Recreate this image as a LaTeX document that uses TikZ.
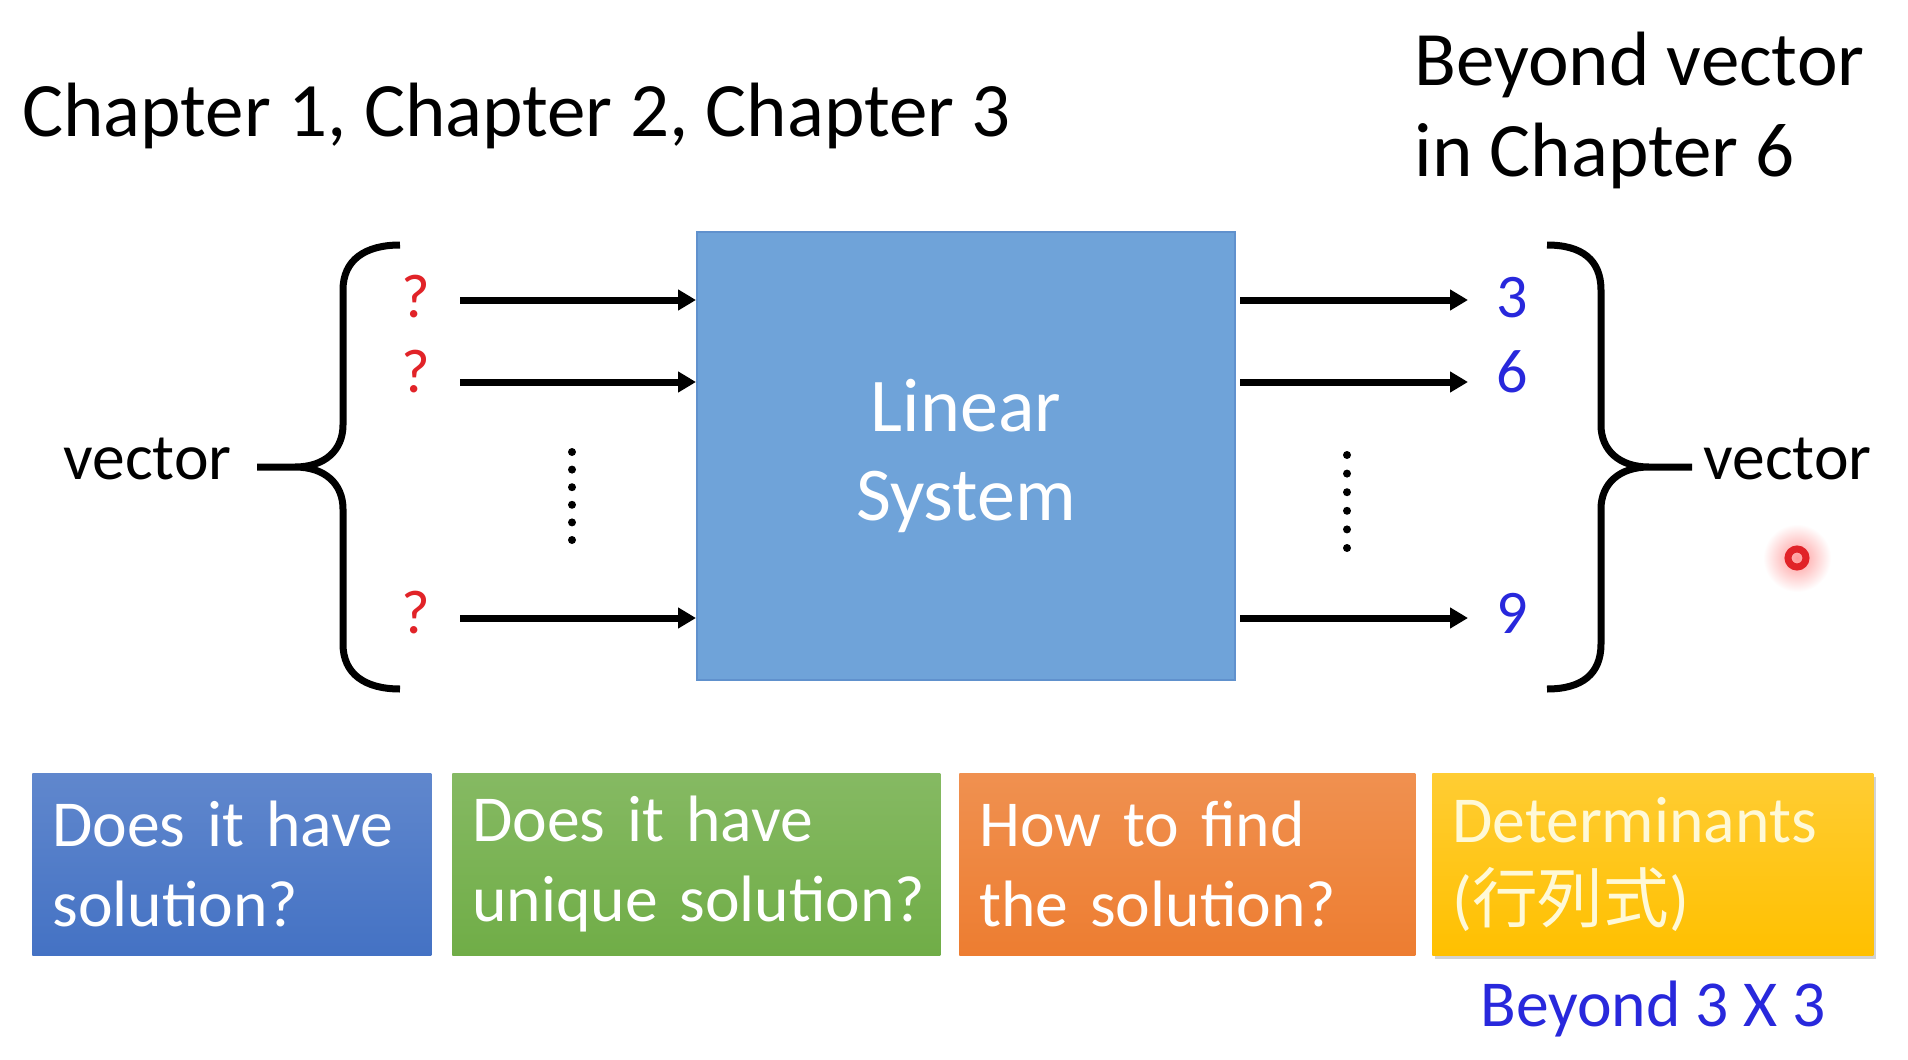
\documentclass[tikz,border=0pt]{standalone}
\usepackage{fontspec}
\setmainfont{Carlito}
\newfontfamily\qboxfam{Carlito}[WordSpace=0.72]
\newfontfamily\cjk{Noto Sans CJK TC}
\usetikzlibrary{arrows.meta,shadows,positioning}
\definecolor{sysblue}{RGB}{111,163,217}
\definecolor{sysedge}{RGB}{96,145,205}
\definecolor{qred}{RGB}{225,35,40}
\definecolor{numblue}{RGB}{40,40,220}
\definecolor{boxblue}{RGB}{68,114,196}
\definecolor{boxgreen}{RGB}{112,173,71}
\definecolor{boxorange}{RGB}{237,125,49}
\definecolor{boxgold}{RGB}{255,192,0}
\definecolor{paleyellow}{RGB}{255,249,215}

\begin{document}
\begin{tikzpicture}[x=0.5pt,y=-0.5pt,
    arr/.style={line width=3.5pt,-{Triangle[length=9pt,width=10pt]}},
    brace/.style={line width=3.5pt},
    qbox/.style={anchor=north west,minimum height=91pt,inner xsep=10pt,inner ysep=0pt,
      align=left,text=white,font=\qboxfam\fontsize{32.8}{40}\selectfont},
    big/.style={inner sep=0pt,font=\fontsize{38.5}{46}\selectfont},
    mid/.style={inner sep=0pt,font=\fontsize{32.8}{40}\selectfont},
    num/.style={inner sep=0pt,anchor=base,font=\fontsize{31}{37}\selectfont}]
  \useasboundingbox (0,0) rectangle (1908,1060);
  \fill[white] (0,0) rectangle (1908,1060);

  % titles
  \node[big,anchor=base west] (chap) at (22,136) {Chapter 1, Chapter 2, Chapter 3};
  \node[big,anchor=base west] (beyond) at (1414,85) {Beyond vector};
  \node[big,anchor=base west] (ch6) at (1414,176) {in Chapter 6};

  % the system
  \node[draw=sysedge,line width=1pt,fill=sysblue,minimum width=269pt,minimum height=224pt,
    inner sep=0pt,text=white,align=center,font=\fontsize{38}{44.5}\selectfont]
    (sys) at (966,456) {Linear\\System};

  \foreach \y [count=\i] in {300,382,618} {
    \coordinate (in\i) at (460,\y);
    \coordinate (out\i) at (1468,\y);
    \draw[arr] (in\i) -- (in\i -| sys.west);
    \draw[arr] ([xshift=2pt]out\i -| sys.east) -- (out\i);
  }
  \foreach \y/\v [count=\i] in {317/3,392/6,633/9} {
    \node[num,text=qred] (q\i) at (416,\y) {?};
    \node[num,text=numblue] (n\i) at (1512,\y) {\v};
  }
  \foreach \k in {0,...,5} {
    \fill (572,452+17.6*\k) circle (4);
    \fill (1347,455+18.6*\k) circle (4);
  }

  % braces
  \draw[brace] (400,245) .. controls (365,245) and (343,260) .. (343,290) -- (343,425)
    .. controls (343,450) and (325,467) .. (295,467) -- (257,467)
    (295,467) .. controls (325,467) and (343,484) .. (343,509) -- (343,644)
    .. controls (343,674) and (365,689) .. (400,689);
  \draw[brace] (1547,245) .. controls (1582,245) and (1601,260) .. (1601,290) -- (1601,425)
    .. controls (1601,450) and (1619,467) .. (1649,467) -- (1692,467)
    (1649,467) .. controls (1619,467) and (1601,484) .. (1601,509) -- (1601,644)
    .. controls (1601,674) and (1582,689) .. (1547,689);
  \node[mid,anchor=base east] (vin) at (232,479) {vector};
  \node[mid,anchor=base west] (vout) at (1703,479) {vector};

  % pointer
  \shade[inner color=red!40,outer color=white] (1797,558) circle (34);
  \draw[qred,line width=3.5pt] (1797,558) circle (9);

  % questions
  \node[qbox,text width=179.5pt,top color=boxblue!85!white,bottom color=boxblue]
    (b1) at (32,773) {\mbox{Does it have}\\\mbox{solution?}};
  \node[qbox,text width=224pt,top color=boxgreen!85!white,bottom color=boxgreen]
    (b2) at (452,773) {\mbox{Does it have}\\\mbox{unique solution?}};
  \node[qbox,text width=208pt,top color=boxorange!85!white,bottom color=boxorange]
    (b3) at (959,773) {\mbox{How to find}\\\mbox{the solution?}};
  \node[qbox,text width=200.5pt,text=paleyellow,top color=boxgold!80!white,bottom color=boxgold,
    drop shadow={opacity=0.35,shadow xshift=1.5pt,shadow yshift=-2pt}]
    (b4) at (1432,773) {\mbox{Determinants}\\\mbox{({\cjk 行列式})}};
  \node[mid,anchor=base,text=numblue] (b33) at (1653,1026) {Beyond 3 X 3};
\end{tikzpicture}
\end{document}
